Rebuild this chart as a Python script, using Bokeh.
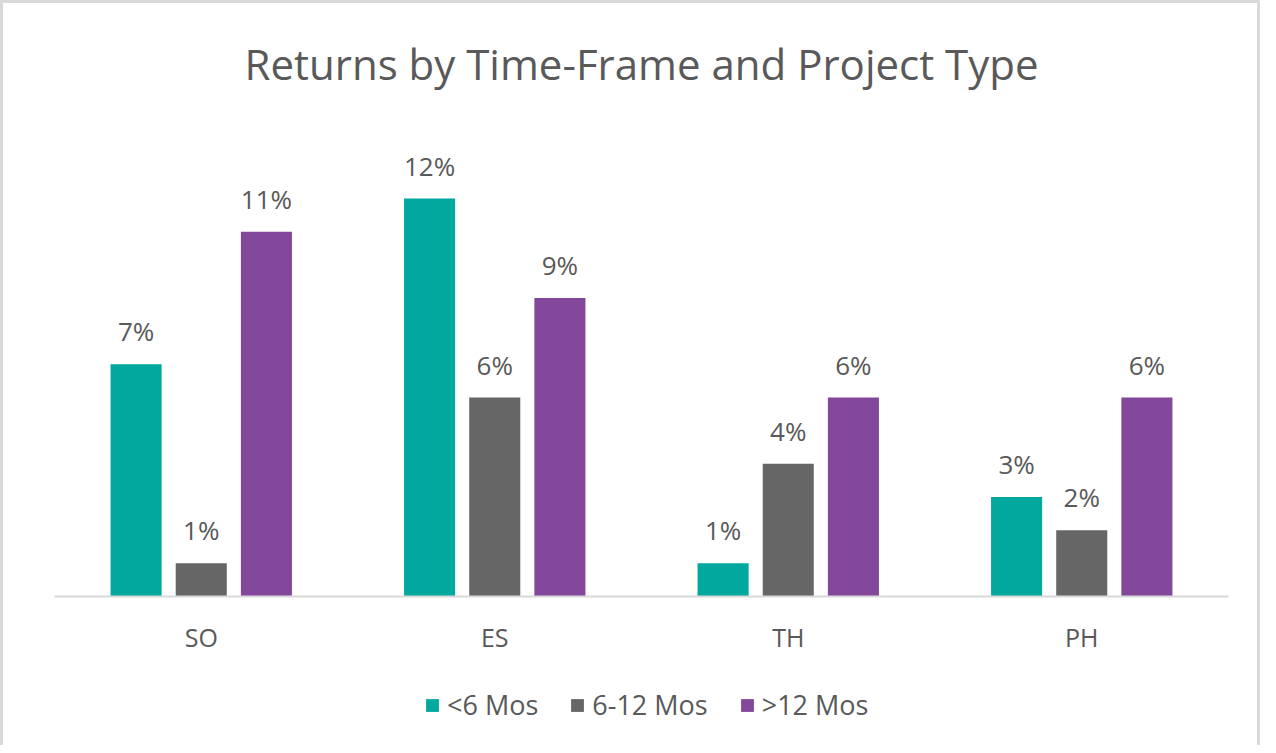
from bokeh.plotting import figure
from bokeh.layouts import column
from bokeh.models import ColumnDataSource, FactorRange, Range1d, Legend, LegendItem, Label
from bokeh.transform import dodge
from bokeh.embed import file_html
from bokeh.resources import INLINE
from bokeh.core.properties import value

categories = ["SO", "ES", "TH", "PH"]
series_names = ["<6 Mos", "6-12 Mos", ">12 Mos"]
lt6 = [7, 12, 1, 3]
m6_12 = [1, 6, 4, 2]
gt12 = [11, 9, 6, 6]
colors = ["#00A89D", "#666666", "#83479B"]
title_text = "Returns by Time-Frame and Project Type"

FONT = "Open Sans"
TXT = "#595959"
BORDER = "3px solid #d9d9d9"

src = ColumnDataSource(dict(
    cat=categories,
    s0=lt6, s1=m6_12, s2=gt12,
    l0=[f"{v}%" for v in lt6],
    l1=[f"{v}%" for v in m6_12],
    l2=[f"{v}%" for v in gt12],
))

xr = FactorRange(*categories, range_padding=0)
p = figure(
    x_range=xr, y_range=Range1d(0, 17.7),
    frame_width=1168, frame_height=584,
    output_backend="svg", toolbar_location=None,
    min_border_left=51, min_border_right=35, min_border_top=6, min_border_bottom=64,
    styles={"border-top": BORDER, "border-left": BORDER, "border-right": BORDER},
)
p.outline_line_color = None
p.xgrid.grid_line_color = None
p.ygrid.grid_line_color = None
p.yaxis.visible = False

p.add_layout(Label(x=2, y=16.06, text=title_text, text_align="center",
                   text_baseline="middle", text_font=FONT, text_font_size="42px",
                   text_color=TXT))

ax = p.xaxis[0]
ax.axis_line_color = "#D9D9D9"
ax.axis_line_width = 2
ax.major_tick_line_color = None
ax.minor_tick_line_color = None
ax.major_label_text_font = FONT
ax.major_label_text_font_size = "25px"
ax.major_label_text_color = TXT
ax.major_label_standoff = 17

offsets = [-0.222, 0.0, 0.222]
for i, col in enumerate(colors):
    p.vbar(x=dodge("cat", offsets[i], range=xr), top=f"s{i}", width=0.174,
           source=src, fill_color=col, line_color=None)
    p.text(x=dodge("cat", offsets[i], range=xr), y=f"s{i}", text=f"l{i}",
           source=src, text_align="center", text_baseline="alphabetic", y_offset=-33,
           text_font=value(FONT), text_font_size="26px", text_color=TXT)

# legend strip below the chart (same series; zero-width bars, nothing drawn in view)
q = figure(x_range=xr, y_range=Range1d(-2, -1),
           width=1260, height=88, output_backend="svg", toolbar_location=None,
           x_axis_type=None, y_axis_type=None,
           min_border_left=0, min_border_right=0, min_border_top=0, min_border_bottom=0,
           styles={"border-left": BORDER, "border-right": BORDER})
q.outline_line_color = None
q.xgrid.grid_line_color = None
q.ygrid.grid_line_color = None

items = []
for i, (name, col) in enumerate(zip(series_names, colors)):
    r = q.vbar(x=dodge("cat", offsets[i], range=xr), top=f"s{i}", bottom=f"s{i}", width=0,
               source=src, fill_color=col, line_color=None)
    items.append(LegendItem(label=name, renderers=[r]))

legend = Legend(items=items, orientation="horizontal", location=(370, 22),
                glyph_width=16, glyph_height=16, label_standoff=7, spacing=31,
                label_text_font=FONT, label_text_font_size="27px", label_text_color=TXT,
                border_line_color=None, background_fill_alpha=0, margin=0, padding=0)
q.add_layout(legend, "center")

layout = column(p, q, spacing=0)
open("out.html", "w").write(file_html(layout, INLINE))
